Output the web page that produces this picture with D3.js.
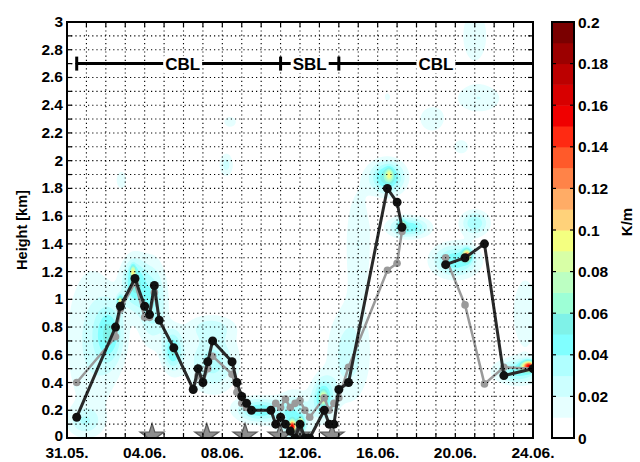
<!DOCTYPE html>
<html>
<head>
<meta charset="utf-8">
<script src="https://cdn.jsdelivr.net/npm/d3@7"></script>
<style>
  body { margin: 0; background: #fff; }
  text { font-family: "Liberation Sans", Arial, sans-serif; font-weight: bold; }
</style>
</head>
<body>
<div id="viz"></div>
<script>
// time axis: days after 31.05. 00:00
const startDate = new Date(2008, 4, 31);
const xTickDays = [0, 4, 8, 12, 16, 20, 24];

// black line (one sounding per point), null = gap
const blackT = [0.5, 2.5, 2.75, 3.5, 4, 4.25, 4.5, 4.75, 5.5, 6.5, 6.75, 7, 7.25, 7.5, 8.5, 8.75, 9, 9.25, 9.5,
  10.5, 10.75, 11, 11.25, 11.5, 11.75, 12, 12.25, 12.5, 13.25, 13.5, 13.75, 14, 14.5, 16.5, 17, 17.25, null,
  19.5, 20.5, 21.5, 22.5, 24];
const blackH = [0.15, 0.80, 0.95, 1.15, 0.95, 0.89, 1.10, 0.85, 0.65, 0.35, 0.50, 0.40, 0.55, 0.70, 0.55, 0.40, 0.30, 0.25, 0.20,
  0.20, 0.10, 0.15, 0.10, 0.05, 0.00, 0.10, 0.00, 0.00, 0.20, 0.10, 0.10, 0.35, 0.40, 1.80, 1.70, 1.52, null,
  1.25, 1.30, 1.40, 0.45, 0.50];

// grey line
const greyT = [0.5, 2.5, 2.75, 3.5, 4, 4.25, 4.5, 4.75, 5.5, 6.5, 6.75, 7, 7.25, 7.5, 8.5, 8.75, 9, 9.25, 9.5,
  10.5, 10.75, 11, 11.25, 11.5, 11.75, 12, 12.25, 12.5, 13.25, 13.5, 13.75, 14, 14.5, 16.5, 17, 17.25, null,
  19.5, 20.5, 21.5, 22.5, 24];
const greyH = [0.40, 0.73, 0.93, 1.12, 0.87, 0.87, 1.05, 0.85, 0.65, 0.35, 0.45, 0.40, 0.50, 0.59, 0.46, 0.33, 0.25, 0.22, 0.20,
  0.20, 0.25, 0.22, 0.28, 0.22, 0.25, 0.27, 0.20, 0.15, 0.29, 0.20, 0.25, 0.29, 0.51, 1.21, 1.26, 1.49, null,
  1.30, 0.96, 0.39, 0.51, 0.50];

// star markers on the time axis
const starT = [4.38, 7.2, 9.17, 10.97, 11.9, 13.65];

// regime bar at 2.7 km
const regimeLabel = ["CBL", "SBL", "CBL"];
const regimeStart = [0.5, 11, 14];
const regimeEnd = [11, 14, 24];

// gradient field read as blobs: centre day, centre km, spread day, spread km, peak K/m
const blobT  = [1.3, 2.2, 3.45, 3.4, 2.75, 4.4, 5.45, 7.5, 7.4, 9.9, 11.7, 11.6, 12.05, 13.2, 13.2, 14.5, 15.0,
  16.5, 16.6, 17.6, 17.25, 20.0, 20.6, 23.2, 23.8, 21.0, 21.2, 18.8, 20.3, 21.0, 23.6, 8.4, 8.2, 2.8, 16.5, 0.9];
const blobH  = [0.7, 0.75, 1.12, 1.2, 0.98, 0.98, 0.63, 0.55, 0.8, 0.2, 0.15, 0.08, 0.1, 0.29, 0.29, 0.6, 1.4,
  1.88, 1.9, 1.52, 1.53, 1.28, 1.32, 0.48, 0.52, 2.9, 2.45, 2.3, 2.1, 1.55, 0.9, 2.28, 1.97, 1.86, 2.46, 0.12];
const blobSt = [1.0, 0.5, 0.4, 0.08, 0.1, 0.5, 0.35, 0.9, 0.9, 0.8, 0.6, 0.12, 0.1, 0.4, 0.12, 0.8, 0.5,
  0.6, 0.12, 0.7, 0.12, 0.8, 0.15, 0.8, 0.25, 0.5, 0.9, 0.5, 0.3, 0.5, 0.5, 0.25, 0.25, 0.2, 0.15, 0.6];
const blobSh = [0.4, 0.15, 0.12, 0.03, 0.03, 0.2, 0.1, 0.15, 0.06, 0.06, 0.12, 0.03, 0.03, 0.1, 0.03, 0.25, 0.3,
  0.08, 0.03, 0.05, 0.03, 0.08, 0.03, 0.06, 0.025, 0.15, 0.08, 0.07, 0.04, 0.06, 0.2, 0.03, 0.06, 0.05, 0.03, 0.07];
const blobV  = [0.022, 0.04, 0.05, 0.07, 0.09, 0.04, 0.05, 0.035, 0.02, 0.05, 0.04, 0.14, 0.11, 0.05, 0.06, 0.025, 0.02,
  0.06, 0.045, 0.05, 0.06, 0.05, 0.1, 0.045, 0.13, 0.02, 0.02, 0.02, 0.02, 0.04, 0.02, 0.02, 0.025, 0.02, 0.015, 0.025];

// colour bar levels (0 .. 0.2 in steps of 0.01)
const cbColors = ["#ffffff", "#e6ffff", "#ccffff", "#b0ffff", "#80ffff", "#7ff2e8", "#9dffd6", "#bcffc2",
  "#d8ffa6", "#f4ff80", "#ffd27a", "#ffac66", "#ff8348", "#ff5a2a", "#ff2a12", "#f00000", "#d80000", "#bc0000",
  "#9c0000", "#7a0000"];
const cbTicks = [0, 0.02, 0.04, 0.06, 0.08, 0.1, 0.12, 0.14, 0.16, 0.18, 0.2];
const yTicks = [0, 0.2, 0.4, 0.6, 0.8, 1, 1.2, 1.4, 1.6, 1.8, 2, 2.2, 2.4, 2.6, 2.8, 3];

const W = 640, H = 462;
const margin = { top: 22, left: 67 },
  width = 466, height = 416;

const toDate = t => d3.timeMinute.offset(startDate, Math.round(t * 1440));

const svg = d3.select("#viz").append("svg")
  .attr("width", W).attr("height", H);

const x = d3.scaleTime().domain([toDate(0), toDate(24)]).range([margin.left, margin.left + width]);
const y = d3.scaleLinear().domain([0, 3]).range([margin.top + height, margin.top]);

svg.append("clipPath").attr("id", "clip")
  .append("rect").attr("x", margin.left).attr("y", margin.top).attr("width", width).attr("height", height);

const plot = svg.append("g").attr("clip-path", "url(#clip)");

/*
 * field contours
 */
const nx = 233, ny = 208;
const vals = new Float64Array(nx * ny);
for (let j = 0; j < ny; j++) {
  const km = 3 - (j + 0.5) / ny * 3;
  for (let i = 0; i < nx; i++) {
    const day = (i + 0.5) / nx * 24;
    let v = 0;
    for (let b = 0; b < blobT.length; b++) {
      const dx = (day - blobT[b]) / blobSt[b], dy = (km - blobH[b]) / blobSh[b];
      v += blobV[b] * Math.exp(-0.5 * (dx * dx + dy * dy));
    }
    vals[j * nx + i] = v;
  }
}
const levels = d3.range(1, 20).map(k => k * 0.01);
const contours = d3.contours().size([nx, ny]).thresholds(levels)(vals);
const cpath = d3.geoPath(d3.geoTransform({
  point: function(px, py) {
    this.stream.point(margin.left + px / nx * width, margin.top + py / ny * height);
  }
}));
plot.selectAll("path.field")
  .data(contours).enter()
  .append("path")
  .attr("class", "field")
  .attr("d", cpath)
  .attr("fill", d => cbColors[Math.round(d.value / 0.01)]);

/*
 * grid
 */
const dayTicks = d3.range(0, 25).map(toDate);
const minorY = d3.range(0, 31).map(k => k / 10);
svg.append("g").selectAll("line")
  .data(dayTicks.slice(1, -1)).enter()
  .append("line")
  .attr("x1", d => x(d)).attr("x2", d => x(d))
  .attr("y1", margin.top).attr("y2", margin.top + height)
  .attr("stroke", "#000").attr("stroke-width", 1.1).attr("stroke-dasharray", "1.2,3");
svg.append("g").selectAll("line")
  .data(minorY.slice(1, -1)).enter()
  .append("line")
  .attr("x1", margin.left).attr("x2", margin.left + width)
  .attr("y1", d => y(d)).attr("y2", d => y(d))
  .attr("stroke", "#000").attr("stroke-width", 1.1).attr("stroke-dasharray", "1.2,3");

/*
 * regime bar
 */
const rg = svg.append("g");
const ry = y(2.7);
regimeLabel.forEach((lab, i) => {
  const x0 = x(toDate(regimeStart[i])), x1 = x(toDate(regimeEnd[i]));
  rg.append("line").attr("x1", x0).attr("x2", x1).attr("y1", ry).attr("y2", ry)
    .attr("stroke", "#000").attr("stroke-width", 3);
});
[regimeStart[0], regimeEnd[0], regimeEnd[1]].forEach(t => {
  rg.append("line").attr("x1", x(toDate(t))).attr("x2", x(toDate(t)))
    .attr("y1", ry - 7).attr("y2", ry + 7)
    .attr("stroke", "#000").attr("stroke-width", 3);
});
regimeLabel.forEach((lab, i) => {
  const cx = (x(toDate(regimeStart[i])) + x(toDate(regimeEnd[i]))) / 2 + (i === 0 ? 4 : 0);
  const t = rg.append("text").attr("x", cx).attr("y", ry + 6.5)
    .attr("text-anchor", "middle").attr("font-size", 17).text(lab);
  const bb = t.node().getBBox();
  rg.insert("rect", "text").attr("x", bb.x - 2).attr("y", bb.y + 1)
    .attr("width", bb.width + 4).attr("height", bb.height - 2).attr("fill", "#fff");
});

/*
 * lines
 */
function series(ts, hs) {
  return ts.map((t, i) => (t === null ? null : [toDate(t), hs[i]]));
}
const line = d3.line()
  .defined(d => d !== null)
  .x(d => x(d[0])).y(d => y(d[1]));

const greyData = series(greyT, greyH), blackData = series(blackT, blackH);

plot.append("path").datum(greyData).attr("d", line)
  .attr("fill", "none").attr("stroke", "#9a9a9a").attr("stroke-width", 2.5);
plot.selectAll("circle.grey").data(greyData.filter(d => d)).enter()
  .append("circle").attr("class", "grey")
  .attr("cx", d => x(d[0])).attr("cy", d => y(d[1])).attr("r", 3.8)
  .attr("fill", "#9a9a9a");

/*
 * stars
 */
const star = d3.symbol().type(d3.symbolStar).size(175);
plot.selectAll("path.star").data(starT).enter()
  .append("path").attr("class", "star")
  .attr("d", star)
  .attr("transform", d => `translate(${x(toDate(d))},${y(0) - 2})`)
  .attr("fill", "#828282").attr("fill-opacity", 0.9)
  .attr("stroke", "#5c5c5c").attr("stroke-width", 1.3);

plot.append("path").datum(blackData).attr("d", line)
  .attr("fill", "none").attr("stroke", "#2a2a2a").attr("stroke-width", 3);
plot.selectAll("circle.black").data(blackData.filter(d => d)).enter()
  .append("circle").attr("class", "black")
  .attr("cx", d => x(d[0])).attr("cy", d => y(d[1])).attr("r", 4.5)
  .attr("fill", "#111");

/*
 * axes
 */
const ax = svg.append("g");
// minor tick marks on all four sides
dayTicks.slice(1, -1).forEach(d => {
  ax.append("line").attr("x1", x(d)).attr("x2", x(d)).attr("y1", y(0)).attr("y2", y(0) - 5).attr("stroke", "#000").attr("stroke-width", 1.2);
  ax.append("line").attr("x1", x(d)).attr("x2", x(d)).attr("y1", y(3)).attr("y2", y(3) + 5).attr("stroke", "#000").attr("stroke-width", 1.2);
});
minorY.slice(1, -1).forEach(d => {
  ax.append("line").attr("x1", margin.left).attr("x2", margin.left + 5).attr("y1", y(d)).attr("y2", y(d)).attr("stroke", "#000").attr("stroke-width", 1.2);
  ax.append("line").attr("x1", margin.left + width).attr("x2", margin.left + width - 5).attr("y1", y(d)).attr("y2", y(d)).attr("stroke", "#000").attr("stroke-width", 1.2);
});
ax.append("rect").attr("x", margin.left).attr("y", margin.top)
  .attr("width", width).attr("height", height)
  .attr("fill", "none").attr("stroke", "#000").attr("stroke-width", 2);

const fmt = d3.timeFormat("%d.%m.");
ax.selectAll("text.xl").data(xTickDays).enter()
  .append("text").attr("class", "xl")
  .attr("x", d => x(toDate(d))).attr("y", y(0) + 20)
  .attr("text-anchor", "middle").attr("font-size", 15.5)
  .text(d => fmt(toDate(d)));
ax.selectAll("text.yl").data(yTicks).enter()
  .append("text").attr("class", "yl")
  .attr("x", margin.left - 4).attr("y", d => y(d) + (d === 0 ? 3 : 5))
  .attr("text-anchor", "end").attr("font-size", 15.5)
  .text(d => d3.format("~g")(d));
ax.append("text")
  .attr("transform", `translate(27,${margin.top + height / 2}) rotate(-90)`)
  .attr("text-anchor", "middle").attr("font-size", 14.5)
  .text("Height [km]");

/*
 * colour bar
 */
const cbX = 552, cbW = 22;
const cy = d3.scaleLinear().domain([0, 0.2]).range([margin.top + height, margin.top]);
const cb = svg.append("g");
cb.selectAll("rect.lev").data(cbColors).enter()
  .append("rect").attr("class", "lev")
  .attr("x", cbX).attr("width", cbW)
  .attr("y", (d, i) => cy((i + 1) * 0.01)).attr("height", cy(0) - cy(0.01) + 0.5)
  .attr("fill", d => d);
cbTicks.slice(1, -1).forEach(v => {
  cb.append("line").attr("x1", cbX).attr("x2", cbX + 4).attr("y1", cy(v)).attr("y2", cy(v)).attr("stroke", "#000").attr("stroke-width", 1.2);
  cb.append("line").attr("x1", cbX + cbW).attr("x2", cbX + cbW - 4).attr("y1", cy(v)).attr("y2", cy(v)).attr("stroke", "#000").attr("stroke-width", 1.2);
});
cb.append("rect").attr("x", cbX).attr("y", margin.top).attr("width", cbW).attr("height", height)
  .attr("fill", "none").attr("stroke", "#000").attr("stroke-width", 2);
cb.selectAll("text.cl").data(cbTicks).enter()
  .append("text").attr("class", "cl")
  .attr("x", cbX + cbW + 4).attr("y", d => cy(d) + 5.5)
  .attr("font-size", 15.5)
  .text(d => d3.format("~g")(d));
cb.append("text")
  .attr("transform", `translate(632,${margin.top + 200}) rotate(-90)`)
  .attr("text-anchor", "middle").attr("font-size", 15)
  .text("K/m");
</script>
</body>
</html>
